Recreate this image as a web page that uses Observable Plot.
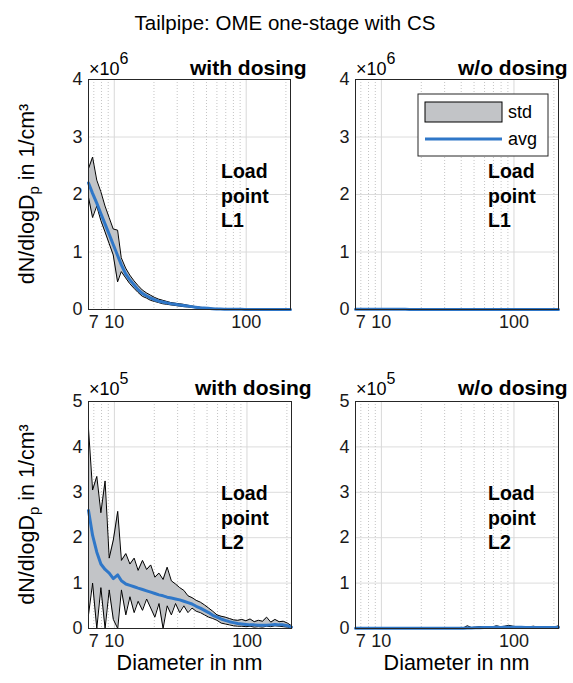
<!DOCTYPE html>
<html>
<head>
<meta charset="utf-8">
<script src="https://cdn.jsdelivr.net/npm/d3@7"></script>
<script src="https://cdn.jsdelivr.net/npm/@observablehq/plot@0.6"></script>
<style>
  html, body { margin: 0; padding: 0; background: #fff; }
  #root { position: relative; width: 573px; height: 683px; overflow: hidden; background: #fff; }
  #root svg { position: absolute; max-width: none; }
</style>
</head>
<body>
<div id="root"></div>
<script>
// ---------------- DATA ----------------
const chartTitle = "Tailpipe: OME one-stage with CS";
const xLabel = "Diameter in nm";
const panelTitles = ["with dosing", "w/o dosing"];
const loadPoints = ["L1", "L2"];
const loadText = ["Load", "point"];
const legendLabels = ["std", "avg"];
const exponents = [6, 5];
const xTickValues = [7, 10, 100];
const xMajorGrid = [10, 100];
const xMinorGrid = [7, 8, 9, 20, 30, 40, 50, 60, 70, 80, 90, 200];
const yTicksL1 = [0, 1, 2, 3, 4];
const yTicksL2 = [0, 1, 2, 3, 4, 5];

// SMPS channel mid-point diameters in nm
const diameterNm = [6.38, 6.85, 7.37, 7.91, 8.51, 9.14, 9.82, 10.6, 11.3, 12.2,
  13.1, 14.1, 15.1, 16.3, 17.5, 18.8, 20.2, 21.7, 23.3, 25.0,
  26.9, 28.9, 31.1, 33.4, 35.9, 38.5, 41.4, 44.5, 47.8, 51.4,
  55.2, 59.4, 63.8, 68.5, 73.7, 79.1, 85.1, 91.4, 98.2, 105.5,
  113.4, 121.9, 131.0, 140.7, 151.2, 162.5, 174.7, 187.7, 201.7, 216.7];

// Load point L1, with dosing (x10^6 1/cm3)
const avgL1With = [2.20, 2.02, 1.85, 1.67, 1.49, 1.31, 1.13, 0.94, 0.78, 0.62,
  0.52, 0.43, 0.35, 0.28, 0.24, 0.20, 0.17, 0.145, 0.13, 0.115,
  0.10, 0.09, 0.08, 0.07, 0.06, 0.05, 0.04, 0.03, 0.025, 0.02,
  0.015, 0.01, 0.008, 0.006, 0.005, 0.004, 0.003, 0.003, 0.002, 0.002,
  0.002, 0.001, 0.001, 0.001, 0.001, 0.001, 0.001, 0.001, 0.001, 0.001];
const upperL1With = [2.45, 2.65, 2.25, 2.05, 1.80, 1.60, 1.40, 1.38, 0.90, 0.72,
  0.60, 0.50, 0.42, 0.34, 0.29, 0.25, 0.21, 0.18, 0.16, 0.14,
  0.12, 0.11, 0.10, 0.09, 0.075, 0.062, 0.05, 0.04, 0.032, 0.025,
  0.02, 0.014, 0.011, 0.008, 0.007, 0.006, 0.005, 0.004, 0.004, 0.003,
  0.003, 0.002, 0.002, 0.002, 0.002, 0.002, 0.002, 0.002, 0.002, 0.002];
const lowerL1With = [1.95, 1.60, 1.80, 1.55, 1.35, 1.15, 0.95, 0.48, 0.66, 0.55,
  0.45, 0.37, 0.30, 0.23, 0.20, 0.16, 0.14, 0.12, 0.10, 0.09,
  0.08, 0.07, 0.06, 0.05, 0.045, 0.038, 0.03, 0.022, 0.018, 0.015,
  0.01, 0.007, 0.005, 0.004, 0.003, 0.002, 0.002, 0.002, 0.001, 0.001,
  0.001, 0, 0, 0, 0, 0, 0, 0, 0, 0];

// Load point L1, without dosing (x10^6 1/cm3)
const avgL1Without = [0.004, 0.004, 0.004, 0.003, 0.003, 0.003, 0.003, 0.003, 0.003, 0.003,
  0.003, 0.003, 0.003, 0.002, 0.002, 0.002, 0.002, 0.002, 0.002, 0.002,
  0.002, 0.002, 0.002, 0.002, 0.002, 0.002, 0.002, 0.002, 0.002, 0.002,
  0.002, 0.002, 0.002, 0.002, 0.002, 0.002, 0.002, 0.002, 0.002, 0.002,
  0.002, 0.002, 0.002, 0.002, 0.002, 0.002, 0.002, 0.002, 0.002, 0.002];
const upperL1Without = [0.007, 0.007, 0.006, 0.006, 0.005, 0.005, 0.005, 0.005, 0.005, 0.005,
  0.005, 0.005, 0.004, 0.004, 0.004, 0.004, 0.004, 0.004, 0.004, 0.004,
  0.004, 0.004, 0.004, 0.004, 0.004, 0.004, 0.004, 0.004, 0.004, 0.004,
  0.004, 0.004, 0.004, 0.004, 0.004, 0.004, 0.004, 0.004, 0.004, 0.004,
  0.004, 0.004, 0.004, 0.004, 0.004, 0.004, 0.004, 0.004, 0.004, 0.004];
const lowerL1Without = [0.001, 0.001, 0.001, 0.001, 0.001, 0.001, 0.001, 0.001, 0.001, 0.001,
  0.001, 0.001, 0.001, 0, 0, 0, 0, 0, 0, 0,
  0, 0, 0, 0, 0, 0, 0, 0, 0, 0,
  0, 0, 0, 0, 0, 0, 0, 0, 0, 0,
  0, 0, 0, 0, 0, 0, 0, 0, 0, 0];

// Load point L2, with dosing (x10^5 1/cm3)
const avgL2With = [2.60, 2.05, 1.68, 1.42, 1.30, 1.22, 1.10, 1.18, 1.05, 0.98,
  0.95, 0.92, 0.89, 0.86, 0.83, 0.80, 0.77, 0.74, 0.72, 0.69,
  0.67, 0.65, 0.63, 0.60, 0.57, 0.54, 0.49, 0.45, 0.40, 0.35,
  0.29, 0.25, 0.21, 0.18, 0.15, 0.13, 0.11, 0.10, 0.09, 0.08,
  0.08, 0.07, 0.07, 0.07, 0.08, 0.09, 0.08, 0.08, 0.06, 0.03];
const upperL2With = [4.40, 3.05, 3.35, 2.55, 3.25, 1.55, 1.95, 2.58, 1.50, 1.65,
  1.42, 1.55, 1.28, 1.50, 1.30, 1.40, 1.13, 1.22, 1.08, 1.35,
  1.05, 0.98, 0.90, 0.84, 0.72, 0.68, 0.62, 0.58, 0.52, 0.45,
  0.38, 0.30, 0.27, 0.25, 0.22, 0.19, 0.18, 0.20, 0.17, 0.21,
  0.15, 0.18, 0.16, 0.25, 0.14, 0.20, 0.15, 0.16, 0.12, 0.06];
const lowerL2With = [0.30, 1.00, 0.00, 0.90, 0.00, 0.85, 0.20, 0.00, 0.85, 0.30,
  0.70, 0.35, 0.60, 0.40, 0.65, 0.45, 0.25, 0.55, 0.00, 0.50,
  0.30, 0.55, 0.35, 0.50, 0.35, 0.45, 0.38, 0.35, 0.30, 0.25,
  0.22, 0.18, 0.12, 0.10, 0.08, 0.06, 0.05, 0.05, 0.04, 0.05,
  0.03, 0.04, 0.03, 0.05, 0.04, 0.06, 0.05, 0.04, 0.03, 0.01];

// Load point L2, without dosing (x10^5 1/cm3)
const avgL2Without = [0.005, 0.005, 0.005, 0.005, 0.005, 0.005, 0.005, 0.005, 0.005, 0.005,
  0.005, 0.005, 0.005, 0.005, 0.005, 0.005, 0.005, 0.005, 0.005, 0.005,
  0.005, 0.005, 0.005, 0.005, 0.005, 0.005, 0.005, 0.010, 0.010, 0.015,
  0.015, 0.020, 0.020, 0.020, 0.025, 0.020, 0.025, 0.025, 0.030, 0.025,
  0.025, 0.020, 0.020, 0.020, 0.020, 0.020, 0.020, 0.020, 0.020, 0.025];
const upperL2Without = [0.010, 0.010, 0.010, 0.010, 0.010, 0.010, 0.010, 0.010, 0.010, 0.010,
  0.010, 0.010, 0.010, 0.010, 0.010, 0.010, 0.010, 0.010, 0.010, 0.010,
  0.010, 0.010, 0.010, 0.010, 0.010, 0.010, 0.010, 0.060, 0.020, 0.030,
  0.040, 0.030, 0.040, 0.030, 0.060, 0.040, 0.050, 0.070, 0.050, 0.040,
  0.040, 0.030, 0.040, 0.050, 0.030, 0.040, 0.030, 0.040, 0.030, 0.060];
const lowerL2Without = [0, 0, 0, 0, 0, 0, 0, 0, 0, 0,
  0, 0, 0, 0, 0, 0, 0, 0, 0, 0,
  0, 0, 0, 0, 0, 0, 0, 0, 0, 0,
  0, 0, 0, 0, 0, 0, 0, 0, 0, 0,
  0, 0, 0, 0, 0, 0, 0, 0, 0, 0];

// ---------------- STYLE / LAYOUT ----------------
const BLUE = "#2f77c8";
const FILL = "#c2c4c7";
const FRAME = "#262626";
const FONT = "'Liberation Sans', Arial, Helvetica, sans-serif";
const root = document.getElementById("root");

// Title
const tsvg = d3.select(root).append("svg").attr("width", 573).attr("height", 45)
  .style("left", "0px").style("top", "0px");
tsvg.append("text").attr("x", 285).attr("y", 30).attr("text-anchor", "middle")
  .attr("font-family", FONT).attr("font-size", 20.5).attr("fill", "#000").text(chartTitle);

function addPanel(cfg) {
  const { fx, fy, fw, fh, ymax, yticks, avg, upper, lower, exponent, title, titleX, topDy,
          loadPoint, showYLabel, showXLabel, legend } = cfg;
  const ML = 90, MR = 40, MT = 45, MB = 55;
  const rows = diameterNm.map((d, i) => ({ d, avg: avg[i], hi: upper[i], lo: lower[i] }));
  const svgEl = Plot.plot({
    width: ML + fw + MR,
    height: MT + fh + MB,
    marginLeft: ML, marginRight: MR, marginTop: MT, marginBottom: MB,
    style: { fontFamily: FONT, fontSize: "18px", color: "#1a1a1a", background: "transparent", overflow: "visible" },
    x: { type: "log", domain: [6.38, 216.7] },
    y: { domain: [0, ymax] },
    marks: [
      Plot.ruleY(yticks, { stroke: "#dcdcdc", strokeWidth: 1 }),
      Plot.ruleX(xMinorGrid, { stroke: "#c4c4c4", strokeWidth: 1, strokeDasharray: "1,2" }),
      Plot.ruleX(xMajorGrid, { stroke: "#d8d8d8", strokeWidth: 1 }),
      Plot.areaY(rows, { x: "d", y1: "lo", y2: "hi", fill: FILL }),
      Plot.line(rows, { x: "d", y: "hi", stroke: "#000", strokeWidth: 1 }),
      Plot.line(rows, { x: "d", y: "lo", stroke: "#000", strokeWidth: 1 }),
      Plot.line(rows, { x: "d", y: "avg", stroke: BLUE, strokeWidth: 3 }),
      Plot.axisX({ ticks: xTickValues, tickFormat: d => String(d), tickSize: 0, tickPadding: 6, label: null }),
      Plot.axisY({ ticks: yticks, tickFormat: d => String(d), tickSize: 0, tickPadding: 6, label: null }),
      Plot.frame({ stroke: FRAME, strokeWidth: 1 })
    ]
  });
  svgEl.style.left = (fx - ML) + "px";
  svgEl.style.top = (fy - MT) + "px";
  root.appendChild(svgEl);

  const g = d3.select(svgEl).append("g")
    .attr("transform", `translate(${ML},${MT})`)
    .attr("font-family", FONT).attr("fill", "#000")
    .attr("text-anchor", "start");

  // exponent label
  const ex = g.append("text").attr("x", 1).attr("y", topDy).attr("font-size", 18)
    .attr("text-anchor", "start");
  ex.append("tspan").text("×10");
  ex.append("tspan").attr("dy", -11).attr("font-size", 16).text(String(exponent));

  // panel title
  g.append("text").attr("x", titleX).attr("y", topDy).attr("font-size", 21)
    .attr("text-anchor", "start").attr("font-weight", "bold").text(title);

  // load point annotation
  [...loadText, loadPoint].forEach((t, i) => {
    g.append("text").attr("x", 133).attr("y", 99 + 24.5 * i).attr("text-anchor", "start")
      .attr("font-size", 19.5).attr("font-weight", "bold").text(t);
  });

  if (showYLabel) {
    const yl = g.append("text")
      .attr("transform", `translate(${-54},${fh / 2}) rotate(-90)`)
      .attr("text-anchor", "middle").attr("font-size", 21.5);
    yl.append("tspan").text("dN/dlogD");
    yl.append("tspan").attr("font-size", 15).attr("dy", 5).text("p");
    yl.append("tspan").attr("dy", -5).text(" in 1/cm³");
  }
  if (showXLabel) {
    g.append("text").attr("x", fw / 2).attr("y", fh + 42).attr("text-anchor", "middle")
      .attr("font-size", 21.5).text(xLabel);
  }
  if (legend) {
    const lg = g.append("g").attr("text-anchor", "start");
    lg.append("rect").attr("x", 63).attr("y", 15).attr("width", 130).attr("height", 62)
      .attr("fill", "#fff").attr("stroke", FRAME);
    lg.append("rect").attr("x", 70).attr("y", 23).attr("width", 77).attr("height", 20)
      .attr("fill", FILL).attr("stroke", "#000");
    lg.append("line").attr("x1", 70).attr("x2", 147).attr("y1", 60).attr("y2", 60)
      .attr("stroke", BLUE).attr("stroke-width", 3);
    lg.append("text").attr("x", 153).attr("y", 39).attr("font-size", 18).text(legendLabels[0]);
    lg.append("text").attr("x", 153).attr("y", 66).attr("font-size", 18).text(legendLabels[1]);
  }
}

addPanel({ fx: 88, fy: 79, fw: 202, fh: 230, ymax: 4, yticks: yTicksL1,
  avg: avgL1With, upper: upperL1With, lower: lowerL1With, exponent: exponents[0],
  title: panelTitles[0], titleX: 102, topDy: -4, loadPoint: loadPoints[0],
  showYLabel: true, showXLabel: false, legend: false });
addPanel({ fx: 355, fy: 79, fw: 203, fh: 230, ymax: 4, yticks: yTicksL1,
  avg: avgL1Without, upper: upperL1Without, lower: lowerL1Without, exponent: exponents[0],
  title: panelTitles[1], titleX: 103, topDy: -4, loadPoint: loadPoints[0],
  showYLabel: false, showXLabel: false, legend: true });
addPanel({ fx: 88, fy: 401, fw: 203, fh: 227, ymax: 5, yticks: yTicksL2,
  avg: avgL2With, upper: upperL2With, lower: lowerL2With, exponent: exponents[1],
  title: panelTitles[0], titleX: 107, topDy: -6, loadPoint: loadPoints[1],
  showYLabel: true, showXLabel: true, legend: false });
addPanel({ fx: 355, fy: 401, fw: 203, fh: 227, ymax: 5, yticks: yTicksL2,
  avg: avgL2Without, upper: upperL2Without, lower: lowerL2Without, exponent: exponents[1],
  title: panelTitles[1], titleX: 103, topDy: -6, loadPoint: loadPoints[1],
  showYLabel: false, showXLabel: true, legend: false });
</script>
</body>
</html>
